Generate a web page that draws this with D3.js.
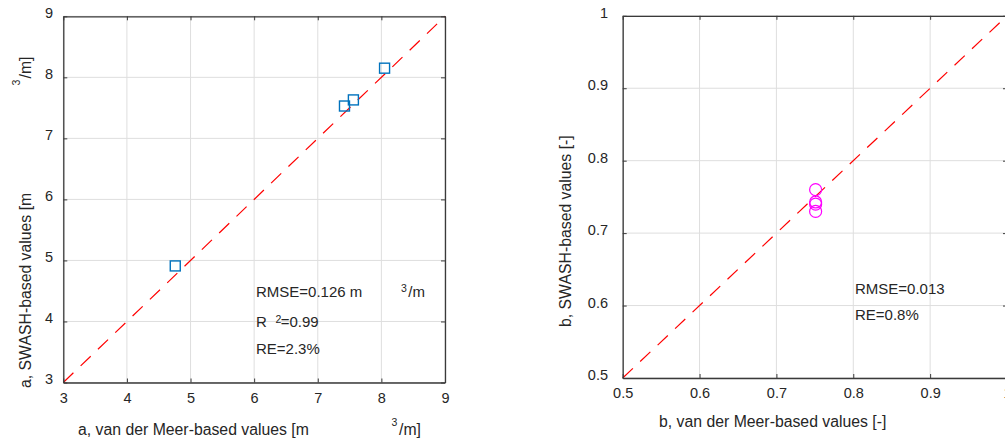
<!DOCTYPE html>
<html>
<head>
<meta charset="utf-8">
<script src="https://cdn.jsdelivr.net/npm/d3@7"></script>
<style>
  html, body { margin: 0; padding: 0; background: #fff; }
  svg { display: block; }
  text { font-family: "Liberation Sans", Arial, Helvetica, sans-serif; fill: #262626; }
</style>
</head>
<body>
<svg id="chart" width="1005" height="444"></svg>
<script>
// Bulk-number coefficients a and b: van der Meer estimate vs SWASH estimate
const aVdm   = [4.76, 7.42, 7.56, 8.05];
const aSwash = [4.91, 7.53, 7.63, 8.15];
const bVdm   = [0.751, 0.751, 0.751, 0.751];
const bSwash = [0.760, 0.743, 0.740, 0.730];

const aTicks = [3, 4, 5, 6, 7, 8, 9];
const aTickLabels = ["3", "4", "5", "6", "7", "8", "9"];
const bTicks = [0.5, 0.6, 0.7, 0.8, 0.9, 1.0];
const bTickLabels = ["0.5", "0.6", "0.7", "0.8", "0.9", "1"];

const svg = d3.select("#chart");
const axisColor = "#3a3a3a";
const gridColor = "#dedede";

function drawPanel(p) {
  const x = d3.scaleLinear().domain(p.domain).range(p.xRange);
  const y = d3.scaleLinear().domain(p.domain).range(p.yRange);
  const [x0, x1] = p.xRange, [y0, y1] = p.yRange;
  const g = svg.append("g");

  // grid
  g.append("g").selectAll("line.gx").data(p.ticks).join("line")
    .attr("x1", d => x(d)).attr("x2", d => x(d)).attr("y1", y0).attr("y2", y1)
    .attr("stroke", gridColor).attr("stroke-width", 1);
  g.append("g").selectAll("line.gy").data(p.ticks).join("line")
    .attr("y1", d => y(d)).attr("y2", d => y(d)).attr("x1", x0).attr("x2", x1)
    .attr("stroke", gridColor).attr("stroke-width", 1);

  // 1:1 reference line
  g.append("line")
    .attr("x1", x(p.domain[0])).attr("y1", y(p.domain[0]))
    .attr("x2", x(p.domain[1])).attr("y2", y(p.domain[1]))
    .attr("stroke", "#ff0000").attr("stroke-width", 1.2)
    .attr("stroke-dasharray", "14,10");

  // axes with inward ticks on all four sides
  const fmt = (d) => p.tickLabels[p.ticks.indexOf(d)];
  const tl = 4;
  const bottom = g.append("g").attr("transform", `translate(0,${y0})`)
    .call(d3.axisBottom(x).tickValues(p.ticks).tickFormat(fmt).tickSizeInner(-tl).tickSizeOuter(0).tickPadding(10));
  const left = g.append("g").attr("transform", `translate(${x0},0)`)
    .call(d3.axisLeft(y).tickValues(p.ticks).tickFormat(fmt).tickSizeInner(-tl).tickSizeOuter(0).tickPadding(10));
  const top = g.append("g").attr("transform", `translate(0,${y1})`)
    .call(d3.axisTop(x).tickValues(p.ticks).tickFormat("").tickSizeInner(-tl).tickSizeOuter(0));
  const right = g.append("g").attr("transform", `translate(${x1},0)`)
    .call(d3.axisRight(y).tickValues(p.ticks).tickFormat("").tickSizeInner(-tl).tickSizeOuter(0));
  [bottom, left, top, right].forEach(ax => {
    ax.select(".domain").attr("stroke", axisColor).attr("stroke-width", 1.3);
    ax.selectAll(".tick line").attr("stroke", axisColor).attr("stroke-width", 1);
    ax.selectAll("text").style("font-size", "14.5px").attr("fill", "#262626")
      .style("font-family", "'Liberation Sans', Arial, sans-serif");
  });
  bottom.selectAll(".tick text").attr("y", p.xTickBase - y0).attr("dy", 0);
  left.selectAll(".tick text").attr("x", p.yTickEnd - x0).attr("dy", "0.1em");

  // markers
  const pts = p.xs.map((v, i) => [v, p.ys[i]]);
  if (p.marker === "square") {
    const s = 10;
    g.append("g").selectAll("rect").data(pts).join("rect")
      .attr("x", d => x(d[0]) - s / 2).attr("y", d => y(d[1]) - s / 2)
      .attr("width", s).attr("height", s)
      .attr("fill", "none").attr("stroke", "#0072bd").attr("stroke-width", 1.4);
  } else {
    g.append("g").selectAll("circle").data(pts).join("circle")
      .attr("cx", d => x(d[0])).attr("cy", d => y(d[1])).attr("r", 6)
      .attr("fill", "none").attr("stroke", "#ff00ff").attr("stroke-width", 1.2);
  }
  return g;
}

// Panel (a)
const ga = drawPanel({
  domain: [3, 9], xRange: [63.3, 445], yRange: [382.5, 16.3],
  ticks: aTicks, tickLabels: aTickLabels,
  xs: aVdm, ys: aSwash, marker: "square",
  xTickBase: 403, yTickEnd: 53
});

// Panel (b)
const gb = drawPanel({
  domain: [0.5, 1], xRange: [622.7, 1007], yRange: [378, 15.8],
  ticks: bTicks, tickLabels: bTickLabels,
  xs: bVdm, ys: bSwash, marker: "circle",
  xTickBase: 398, yTickEnd: 608
});

// Labels and statistics
function txt(x, y, s, size, rot) {
  const t = svg.append("text").attr("x", x).attr("y", y).text(s)
    .style("font-size", size + "px");
  if (rot) t.attr("transform", `rotate(-90,${x},${y})`);
  return t;
}
const LS = 15.8, SS = 10.5, AS = 15;

// panel a axis titles
txt(78, 435, "a, van der Meer-based values [m", LS);
txt(391.5, 426, "3", SS);
txt(399, 435, "/m]", LS);
txt(31, 388, "a, SWASH-based values [m", LS, true);
txt(20, 85.5, "3", SS, true);
txt(31, 78.5, "/m]", LS, true);

// panel a statistics
txt(256, 297, "RMSE=0.126 m", AS);
txt(401, 292, "3", SS);
txt(408.3, 297, "/m", AS);
txt(256, 327, "R", AS);
txt(275.5, 322.5, "2", SS);
txt(280.7, 327, "=0.99", AS);
txt(256, 354, "RE=2.3%", AS);

// panel b axis titles
txt(659, 427, "b, van der Meer-based values [-]", LS);
txt(571, 327, "b, SWASH-based values [-]", LS, true);

// panel b statistics
txt(855, 294, "RMSE=0.013", AS);
txt(855, 320, "RE=0.8%", AS);
</script>
</body>
</html>
